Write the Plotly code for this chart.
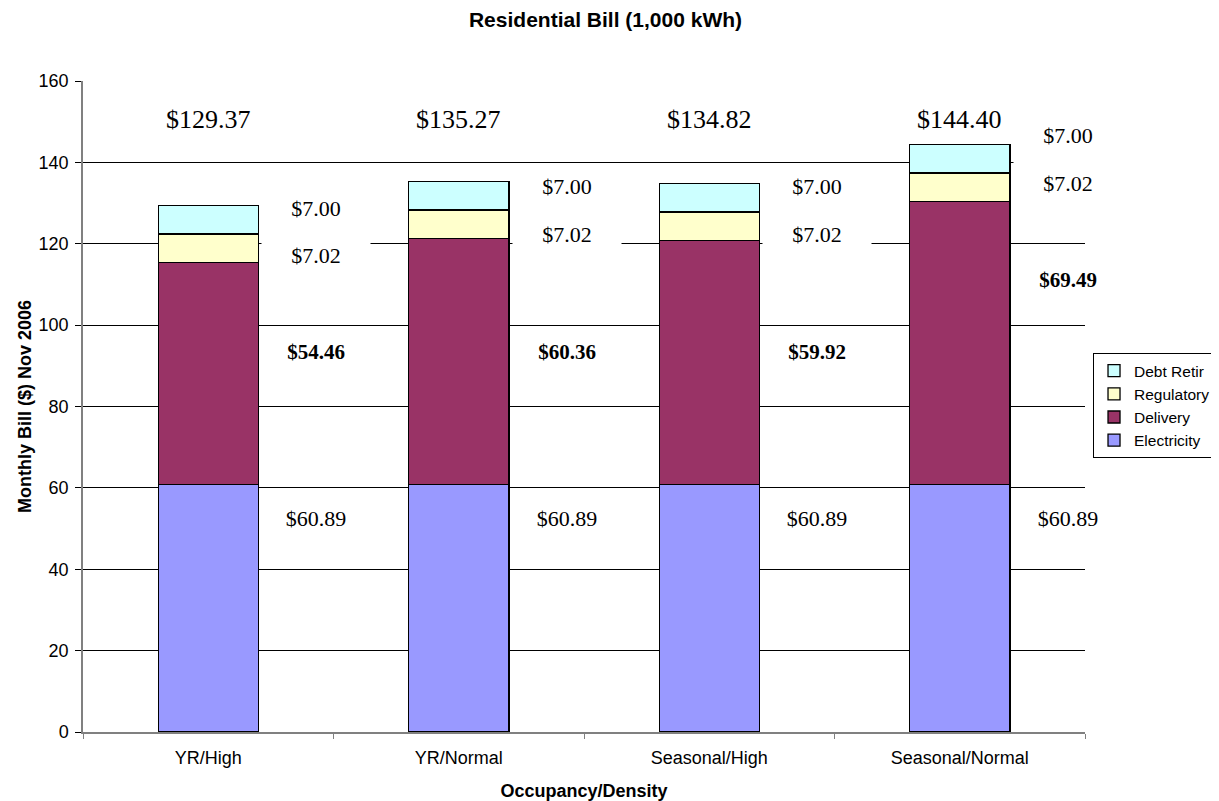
import plotly.graph_objects as go

categories = ["YR/High", "YR/Normal", "Seasonal/High", "Seasonal/Normal"]
electricity = [60.89, 60.89, 60.89, 60.89]
delivery = [54.46, 60.36, 59.92, 69.49]
regulatory = [7.02, 7.02, 7.02, 7.02]
debt_retir = [7.00, 7.00, 7.00, 7.00]
total_labels = ["$129.37", "$135.27", "$134.82", "$144.40"]

# label positions (data units)
elec_label_y = [52.6, 52.6, 52.6, 52.6]
deliv_label_y = [93.5, 93.5, 93.5, 111.2]
reg_label_y = [117.3, 122.5, 122.5, 135.0]
debt_label_y = [128.9, 134.3, 134.3, 146.8]
total_label_y = 150.5

series = [
    ("Electricity", electricity, "#9999FF"),
    ("Delivery", delivery, "#993366"),
    ("Regulatory", regulatory, "#FFFFCC"),
    ("Debt Retir", debt_retir, "#CCFFFF"),
]

fig = go.Figure()
for name, vals, color in series:
    fig.add_trace(go.Bar(
        name=name, x=categories, y=vals, width=0.4, legendgroup=name,
        marker=dict(color=color, line=dict(color="black", width=1.3)),
    ))

serif = "Liberation Serif, Times New Roman, serif"
sans = "Arial, Liberation Sans, sans-serif"
annotations = []
for i, cat in enumerate(categories):
    annotations.append(dict(
        x=cat, y=total_label_y, text=total_labels[i], showarrow=False,
        font=dict(family=serif, size=26, color="black"),
        xanchor="center", yanchor="middle",
    ))
    for vals, ys, bold in [
        (electricity, elec_label_y, False),
        (delivery, deliv_label_y, True),
        (regulatory, reg_label_y, False),
        (debt_retir, debt_label_y, False),
    ]:
        txt = "${:.2f}".format(vals[i])
        size = 22
        if bold:
            txt = "<b>" + txt + "</b>"
            size = 21
        h = 44
        if vals is regulatory and i == 3:
            h = 54
        annotations.append(dict(
            x=cat, y=ys[i], text=txt, showarrow=False, xshift=108,
            font=dict(family=serif, size=size, color="black"),
            xanchor="center", yanchor="middle",
            bgcolor="white", width=108, height=h, borderpad=0, align="center",
        ))

# figure sits 8px in from the page's top-left corner (body margin)
W, H = 1211, 793
fig.update_layout(
    width=W, height=H,
    barmode="stack",
    plot_bgcolor="white", paper_bgcolor="white",
    margin=dict(l=75, r=134, t=73, b=69, autoexpand=False),
    title=dict(text="<b>Residential Bill (1,000 kWh)</b>", x=0.4934, xanchor="center",
               y=1 - 4.0 / H, yanchor="top",
               font=dict(family=sans, size=21, color="black")),
    font=dict(family=sans, size=18, color="black"),
    legend=dict(
        x=1.008, y=0.582, xanchor="left", yanchor="top",
        traceorder="reversed",
        bordercolor="black", borderwidth=1, bgcolor="white",
        font=dict(family=sans, size=15.5, color="black"),
        itemwidth=30, tracegroupgap=7,
    ),
    annotations=annotations,
)

fig.update_xaxes(
    title=dict(text="<b>Occupancy/Density</b>", font=dict(size=18), standoff=17),
    range=[-0.5, 3.5],
    showline=True, linecolor="#808080", linewidth=1.5,
    ticks="outside", tickson="boundaries", ticklen=5, tickcolor="#808080",
    showgrid=False, tickfont=dict(size=18), ticklabelstandoff=9,
    automargin=False,
)
fig.update_yaxes(
    title=dict(text="<b>Monthly Bill ($) Nov 2006</b>", font=dict(size=18), standoff=2),
    range=[0, 160], dtick=20,
    showline=True, linecolor="#808080", linewidth=1.5,
    ticks="outside", ticklen=6, tickcolor="black",
    showgrid=True, gridcolor="black", gridwidth=1,
    zeroline=False, tickfont=dict(size=18), ticklabelstandoff=3,
    automargin=False,
)

fig.write_html("out.html")
